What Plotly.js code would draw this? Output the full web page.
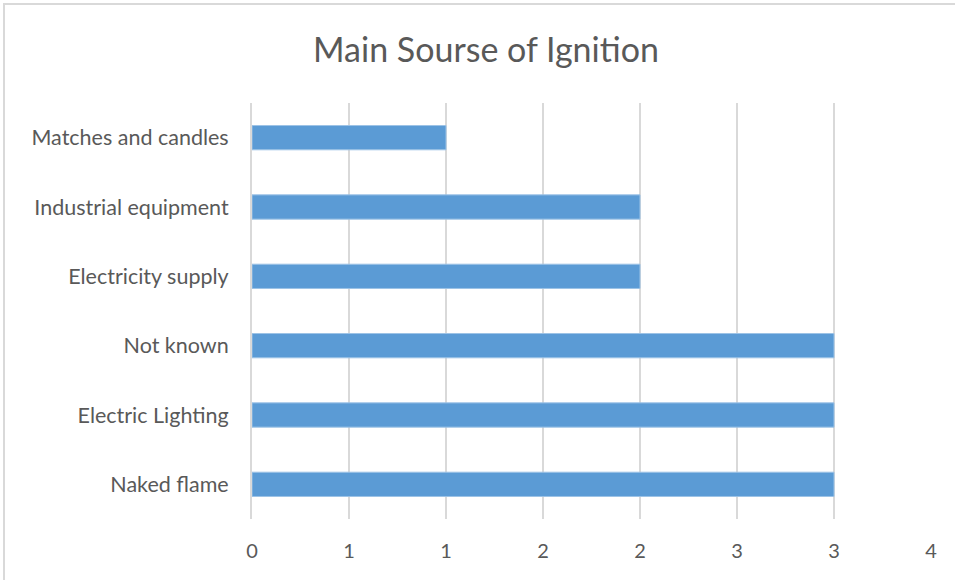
<!DOCTYPE html>
<html>
<head>
<meta charset="utf-8">
<script src="https://cdn.plot.ly/plotly-3.0.1.min.js"></script>
<style>
  body { margin: 0; background: #fff; }
  #chart { width: 955px; height: 580px; }
</style>
</head>
<body>
<div id="chart"></div>
<script>
// Категории (снизу вверх, как в Excel)
const categories = ['Naked flame', 'Electric Lighting', 'Not known', 'Electricity supply', 'Industrial equipment', 'Matches and candles'];
const counts = [3, 3, 3, 2, 2, 1];

// Деления оси X: шаг 0.5, подписи округлены до целых
const xTickVals = [0, 0.5, 1, 1.5, 2, 2.5, 3, 3.5];
const xTickText = ['0', '1', '1', '2', '2', '3', '3', '4'];

const font = 'Lato, "Open Sans", sans-serif';
const grey = '#595959';

const trace = {
    type: 'bar',
    orientation: 'h',
    x: counts,
    y: categories,
    marker: { color: '#5B9BD5', line: { color: '#9DC3E6', width: 1 } },
    hoverinfo: 'x+y'
};

// перевод пикселей в координаты paper для рамки
const L = 252, W = 679, T = 103, H = 416;
const px = v => (v - L) / W;
const py = v => 1 - (v - T) / H;

const layout = {
    width: 955,
    height: 580,
    margin: { l: L, r: 955 - L - W, t: T, b: 580 - T - H },
    paper_bgcolor: '#fff',
    plot_bgcolor: '#fff',
    bargap: 0.65,
    showlegend: false,
    font: { family: font, color: grey, size: 20 },
    title: {
        text: 'Main Sourse of Ignition',
        font: { family: font, size: 34, color: grey },
        x: 486 / 955, xref: 'container', xanchor: 'center',
        y: 1 - 50 / 580, yref: 'container', yanchor: 'middle'
    },
    xaxis: {
        range: [0, 3.5],
        tickvals: xTickVals,
        ticktext: xTickText,
        showgrid: true,
        gridcolor: '#D9D9D9',
        gridwidth: 2,
        zeroline: false,
        showline: false,
        ticks: 'outside',
        ticklen: 14,
        tickcolor: 'rgba(0,0,0,0)',
        tickfont: { family: font, size: 20, color: grey },
        fixedrange: true
    },
    yaxis: {
        type: 'category',
        showgrid: false,
        zeroline: false,
        showline: true,
        linecolor: '#D9D9D9',
        linewidth: 2,
        ticks: 'outside',
        ticklen: 17,
        tickcolor: 'rgba(0,0,0,0)',
        tickfont: { family: font, size: 21.5, color: grey },
        fixedrange: true
    },
    shapes: [{
        type: 'rect', xref: 'paper', yref: 'paper',
        x0: px(4), x1: px(1000), y0: py(4), y1: py(620),
        line: { color: '#D9D9D9', width: 2 },
        layer: 'below'
    }]
};

Plotly.newPlot('chart', [trace], layout, { displayModeBar: false, staticPlot: true });
</script>
</body>
</html>
